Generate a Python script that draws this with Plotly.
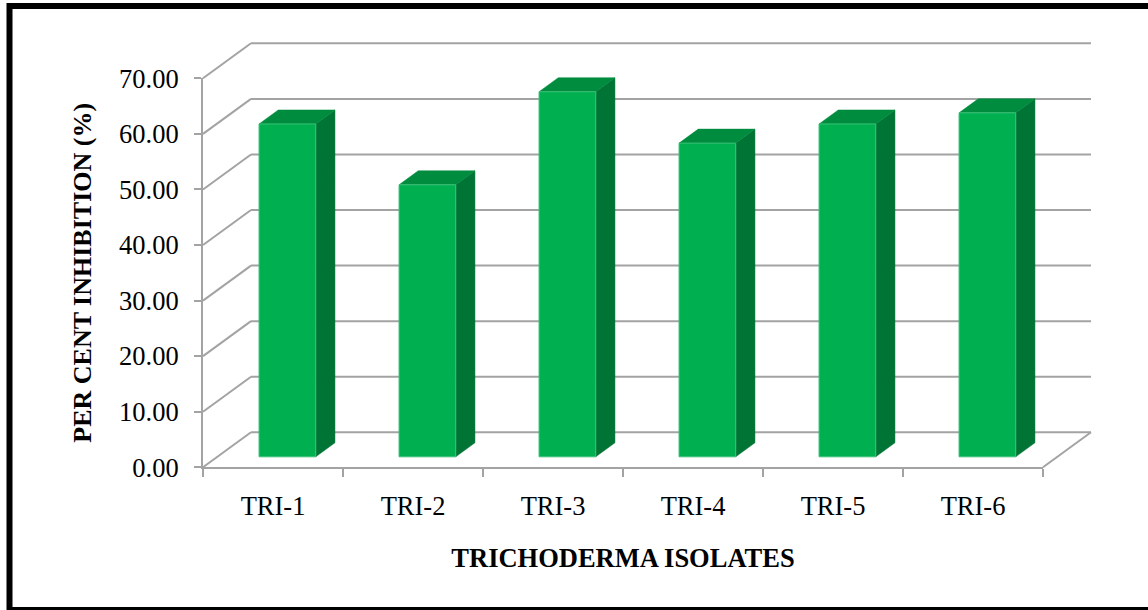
import plotly.graph_objects as go

# ---------------- data ----------------
categories = ["TRI-1", "TRI-2", "TRI-3", "TRI-4", "TRI-5", "TRI-6"]
inhibition = [59.90, 48.95, 65.70, 56.45, 59.90, 61.90]
y_ticks = [0, 10, 20, 30, 40, 50, 60, 70]
y_tick_labels = [f"{v:.2f}" for v in y_ticks]
x_title = "TRICHODERMA ISOLATES"
y_title = "PER CENT INHIBITION (%)"

# ---------------- geometry (pixels) ----------------
W, H = 1148, 610
X0_PX = 203.0        # front-left corner of plot (x=0)
CAT_PX = 140.0       # pixels per category
Y0_PX = 467.3        # front floor (value 0)
UNIT_PX = 5.557      # pixels per value unit
DEPTH_DX_PX = 48.0   # depth offset of back wall
DEPTH_DY_PX = 35.0

DX = DEPTH_DX_PX / CAT_PX       # depth offset in x units
DY = DEPTH_DY_PX / UNIT_PX      # depth offset in value units
BAR_FRONT = 0.30                # bar front plane (fraction of depth)
BAR_DEPTH = 0.40                # bar depth (fraction of depth)
BAR_W = 0.405                   # bar width (category units)

ymax = y_ticks[-1]
n = len(categories)

fig = go.Figure()

# ---------- walls / gridlines ----------
gx, gy = [], []
for v in y_ticks:
    gx += [0, DX, None]
    gy += [v, v + DY, None]
    gx += [DX, n + DX, None]
    gy += [v + DY, v + DY, None]
gx += [n, n + DX, None]
gy += [0, DY, None]

fig.add_trace(go.Scatter(x=gx, y=gy, mode="lines",
                         line=dict(color="#a3a3a3", width=2),
                         hoverinfo="skip", showlegend=False,
                         xaxis="x", yaxis="y"))

# ---------- 3D bars ----------
ox, oy = BAR_FRONT * DX, BAR_FRONT * DY
bdx, bdy = BAR_DEPTH * DX, BAR_DEPTH * DY

fx, fy, tx, ty, sx, sy = [], [], [], [], [], []
for i, v in enumerate(inhibition):
    xl = i + 0.5 - BAR_W / 2 + ox
    xr = i + 0.5 + BAR_W / 2 + ox
    yb = oy
    yt = oy + v
    fx += [xl, xr, xr, xl, xl, None]
    fy += [yb, yb, yt, yt, yb, None]
    tx += [xl, xr, xr + bdx, xl + bdx, xl, None]
    ty += [yt, yt, yt + bdy, yt + bdy, yt, None]
    sx += [xr, xr + bdx, xr + bdx, xr, xr, None]
    sy += [yb, yb + bdy, yt + bdy, yt, yb, None]

fig.add_trace(go.Scatter(x=sx, y=sy, fill="toself", mode="lines",
                         fillcolor="#007434", line=dict(color="#007434", width=0.5),
                         hoverinfo="skip", showlegend=False))
fig.add_trace(go.Scatter(x=tx, y=ty, fill="toself", mode="lines",
                         fillcolor="#008c3e", line=dict(color="#008c3e", width=0.5),
                         hoverinfo="skip", showlegend=False))
fig.add_trace(go.Scatter(x=fx, y=fy, fill="toself", mode="lines",
                         fillcolor="#00b050", line=dict(color="#3cc078", width=1),
                         hoverinfo="skip", showlegend=False))

# dummy trace for front axes subplot
fig.add_trace(go.Scatter(x=[None], y=[None], xaxis="x2", yaxis="y2",
                         showlegend=False, hoverinfo="skip"))

# ---------- layout ----------
x_lo = -X0_PX / CAT_PX
x_hi = (W - X0_PX) / CAT_PX
y_lo = (Y0_PX - H) / UNIT_PX
y_hi = Y0_PX / UNIT_PX

dom_x = [X0_PX / W, (X0_PX + n * CAT_PX) / W]
dom_y = [1 - Y0_PX / H, 1 - (Y0_PX - ymax * UNIT_PX) / H]

font_family = "Liberation Serif"

fig.update_layout(
    width=W, height=H,
    margin=dict(l=0, r=0, t=0, b=0, pad=0, autoexpand=False),
    paper_bgcolor="white", plot_bgcolor="rgba(0,0,0,0)",
    showlegend=False,
    font=dict(family=font_family, color="black"),
    xaxis=dict(domain=[0, 1], range=[x_lo, x_hi], visible=False,
               fixedrange=True, automargin=False),
    yaxis=dict(domain=[0, 1], range=[y_lo, y_hi], visible=False,
               fixedrange=True, automargin=False),
    xaxis2=dict(domain=dom_x, range=[0, n], anchor="y2", automargin=False,
                showline=True, linecolor="#a3a3a3", linewidth=2,
                showgrid=False, zeroline=False,
                tickmode="array", tickvals=[i + 0.5 for i in range(n)],
                ticktext=categories, ticks="",
                minor=dict(ticks="outside", tickmode="linear", tick0=0, dtick=1,
                           ticklen=8, tickwidth=2, tickcolor="#a3a3a3", showgrid=False),
                tickfont=dict(family=font_family, size=26.5, color="black"),
                ticklabelstandoff=14,
                title=dict(text=f"<b>{x_title}</b>", standoff=28,
                           font=dict(family=font_family, size=26.5, color="black")),
                fixedrange=True),
    yaxis2=dict(domain=dom_y, range=[0, ymax], anchor="x2", automargin=False,
                showline=True, linecolor="#a3a3a3", linewidth=2,
                showgrid=False, zeroline=False,
                tickmode="array", tickvals=y_ticks, ticktext=y_tick_labels,
                ticks="outside", ticklen=7, tickwidth=2, tickcolor="#a3a3a3",
                tickfont=dict(family=font_family, size=26.5, color="black"),
                ticklabelstandoff=10,
                title=dict(text=f"<b>{y_title}</b>", standoff=20,
                           font=dict(family=font_family, size=26, color="black")),
                fixedrange=True),
    shapes=[dict(type="rect", xref="paper", yref="paper",
                 x0=9.5 / W, x1=1.05, y0=1 - 610 / H, y1=1 - 6 / H,
                 line=dict(color="black", width=6), fillcolor="rgba(0,0,0,0)",
                 layer="above")],
)

fig.write_html("out.html")
